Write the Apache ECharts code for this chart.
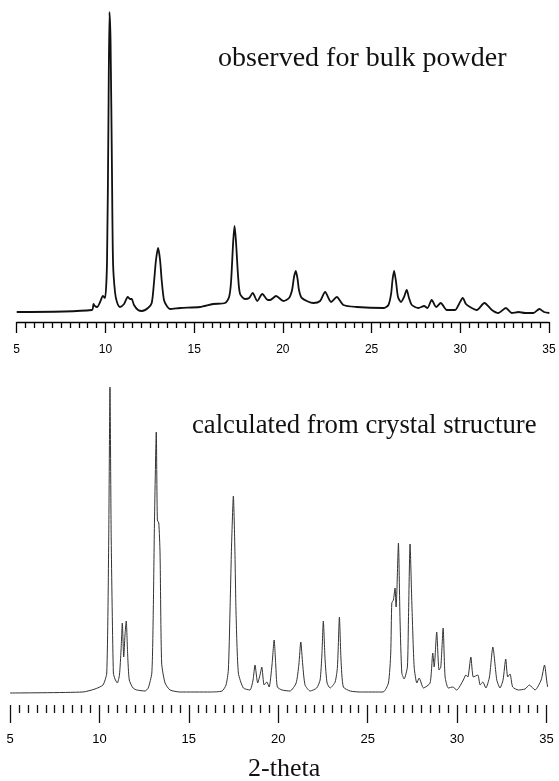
<!DOCTYPE html>
<html>
<head>
<meta charset="utf-8">
<script src="https://cdn.jsdelivr.net/npm/echarts@6/dist/echarts.min.js"></script>
<style>
html,body{margin:0;padding:0;background:#fff;}
#chart{width:559px;height:781px;}
</style>
</head>
<body>
<div id="chart"></div>
<script>
// Observed powder pattern (2-theta, intensity)
const obsTheta = [5.0,9.24,9.33,9.41,9.53,9.70,9.86,9.98,10.09,10.17,10.23,10.29,10.37,10.43,10.54,10.65,10.82,11.05,11.26,11.39,11.48,11.61,11.84,12.06,12.40,12.61,12.74,12.85,12.97,13.08,13.17,13.30,13.46,13.64,14.21,15.33,16.07,16.74,16.97,17.08,17.20,17.28,17.36,17.48,17.59,17.87,18.10,18.30,18.56,18.84,19.15,19.28,19.62,20.03,20.35,20.52,20.63,20.73,20.83,20.91,21.07,21.72,22.10,22.38,22.72,23.04,23.41,24.17,25.67,25.95,26.10,26.18,26.27,26.38,26.49,26.66,26.83,26.98,27.11,27.27,27.64,27.96,28.15,28.39,28.64,28.90,29.24,29.71,29.93,30.14,30.32,30.55,30.93,31.36,31.78,32.15,32.57,32.90,33.28,33.65,34.12,34.46,34.72,35.02];
const obsIntensity = [10,12,18,16,15,20,26,24,60,200,310,280,150,59,30,20,15,18,25,23,23,17,12,11,14,19,40,62,74,62,42,22,16,13,14,15,18,19,25,40,80,96,80,45,28,23,24,29,21,28,22,22,26,21,24,32,45,51,43,32,24,19,21,30,20,25,17,15,14,17,28,42,51,40,25,20,25,32,24,17,14,16,14,22,15,19,12,12,18,24,18,15,12,19,12,9,14,9,10,9,9,13,10,9];

// Calculated pattern from crystal structure
const calcTheta = [5.0,9.08,9.75,10.20,10.41,10.52,10.59,10.66,10.78,10.87,11.00,11.12,11.21,11.28,11.36,11.43,11.50,11.58,11.67,11.88,12.09,12.55,12.73,12.93,13.01,13.08,13.18,13.24,13.32,13.39,13.48,13.67,13.95,14.51,16.19,16.86,17.08,17.21,17.30,17.39,17.49,17.57,17.64,17.77,18.05,18.42,18.59,18.70,18.85,18.98,19.08,19.21,19.36,19.49,19.65,19.77,19.86,19.95,20.21,20.66,21.00,21.15,21.26,21.37,21.50,21.78,22.15,22.34,22.44,22.52,22.62,22.73,22.90,23.18,23.31,23.42,23.51,23.64,24.02,24.58,25.86,26.16,26.29,26.35,26.44,26.53,26.59,26.63,26.72,26.81,26.91,27.04,27.22,27.28,27.37,27.47,27.60,27.75,27.88,28.12,28.49,28.64,28.72,28.86,28.99,29.09,29.22,29.33,29.51,29.76,29.98,30.35,30.49,30.60,30.77,30.91,31.16,31.29,31.44,31.61,31.81,32.00,32.22,32.40,32.57,32.72,32.83,32.96,33.11,33.43,33.80,34.04,34.36,34.70,34.89,35.08,35.26];
const calcIntensity = [12,13,16,20,32,165,318,165,32,26,22,30,55,82,48,70,84,50,25,17,15,14,17,32,92,185,273,185,182,152,42,22,15,13,13,14,20,35,92,160,209,160,92,32,17,15,25,40,22,30,38,20,23,18,40,65,40,18,15,14,22,40,63,40,20,14,17,25,50,84,45,22,17,23,38,88,45,18,14,13,13,22,52,102,105,117,98,112,162,85,32,26,38,85,161,102,38,22,27,17,22,52,38,73,35,38,77,28,17,18,15,25,30,28,48,28,30,20,23,17,28,58,25,17,25,46,28,31,18,15,16,20,15,25,40,18,24];

// Axis tick values
const tickValues = [5,10,15,20,25,30,35];

const zip = (xs, ys) => xs.map((x, i) => [x, ys[i]]);

const chart = echarts.init(document.getElementById('chart'), null, {renderer: 'canvas'});

const labelFmt = v => tickValues.indexOf(v) >= 0 ? String(v) : '';

chart.setOption({
  animation: false,
  backgroundColor: '#ffffff',
  grid: [
    {left: 16.7, top: 12, width: 532.3, height: 310},
    {left: 10, top: 385, width: 536.5, height: 320}
  ],
  xAxis: [
    {
      gridIndex: 0, type: 'value', min: 5, max: 35, interval: 5,
      axisLine: {show: true, lineStyle: {color: '#000', width: 1.3}},
      axisTick: {show: true, length: 11, lineStyle: {color: '#000', width: 1.3}},
      minorTick: {show: true, splitNumber: 10, length: 6, lineStyle: {color: '#000', width: 1.3}},
      axisLabel: {show: true, margin: 22, fontSize: 12, color: '#000', fontFamily: 'Liberation Sans', formatter: labelFmt, showMinLabel: true, showMaxLabel: true},
      splitLine: {show: false}, minorSplitLine: {show: false}
    },
    {
      gridIndex: 1, type: 'value', min: 5, max: 35, interval: 5,
      axisLine: {show: false},
      axisTick: {show: true, length: 18, lineStyle: {color: '#111', width: 1.3}},
      minorTick: {show: true, splitNumber: 10, length: 8, lineStyle: {color: '#111', width: 1.3}},
      axisLabel: {show: true, margin: 28, fontSize: 13, color: '#000', fontFamily: 'Liberation Sans', formatter: labelFmt, showMinLabel: true, showMaxLabel: true},
      splitLine: {show: false}, minorSplitLine: {show: false}
    }
  ],
  yAxis: [
    {gridIndex: 0, type: 'value', min: 0, max: 310, show: false, splitLine: {show: false}},
    {gridIndex: 1, type: 'value', min: 0, max: 320, show: false, splitLine: {show: false}}
  ],
  series: [
    {
      type: 'line', xAxisIndex: 0, yAxisIndex: 0, data: zip(obsTheta, obsIntensity),
      showSymbol: false, symbol: 'none', smooth: 0.25, clip: false,
      lineStyle: {color: '#111', width: 1.8}
    },
    {
      type: 'line', xAxisIndex: 1, yAxisIndex: 1, data: zip(calcTheta, calcIntensity),
      showSymbol: false, symbol: 'none', smooth: 0.2, clip: false,
      lineStyle: {color: '#333', width: 1}
    }
  ],
  graphic: [
    {type: 'text', left: 218, top: 45, style: {text: 'observed for bulk powder', font: '28px "Liberation Serif"', fill: '#111'}},
    {type: 'text', left: 192, top: 412, style: {text: 'calculated from crystal structure', font: '26.7px "Liberation Serif"', fill: '#111'}},
    {type: 'text', left: 248, top: 756, style: {text: '2-theta', font: '26px "Liberation Serif"', fill: '#111'}}
  ]
});
</script>
</body>
</html>
